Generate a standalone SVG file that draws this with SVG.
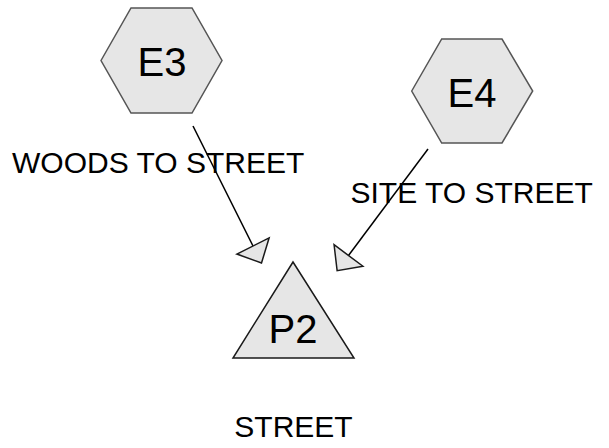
<svg xmlns="http://www.w3.org/2000/svg" width="609" height="448" viewBox="0 0 609 448">
<style>
.hex{fill:#e6e6e6;stroke:#555555;stroke-width:1.5}
.tri{fill:#e6e6e6;stroke:#1a1a1a;stroke-width:1.5}
.nl{font-family:"Liberation Sans",Arial,sans-serif;font-size:40px;fill:#000;text-anchor:middle}
.lbl{font-family:"Liberation Sans",Arial,sans-serif;font-size:30px;fill:#000}
.edge{stroke:#000;stroke-width:1.5;fill:none}
</style>
<defs>
<marker id="ah" markerUnits="userSpaceOnUse" markerWidth="40" markerHeight="40" refX="0" refY="0" viewBox="-2 -20 24 40" orient="auto" overflow="visible">
<path d="M0,-18 L19,0 L0,18 Z" fill="#e6e6e6" stroke="#1a1a1a" stroke-width="1.5" stroke-linejoin="miter"/>
</marker>
</defs>
<rect width="609" height="448" fill="#ffffff"/>
<g id="E3">
<polygon class="hex" points="101,60.5 131,8 192,8 222,60.5 192,113 131,113"/>
<text class="nl" x="162" y="76">E3</text>
</g>
<g id="E4">
<polygon class="hex" points="411.7,91 441.7,39 502,39 532.7,91 502,143 441.7,143"/>
<text class="nl" x="472" y="107">E4</text>
</g>
<g id="P2">
<polygon class="tri" points="293,262 233,358 354,358"/>
<text class="nl" x="293" y="343">P2</text>
<text class="lbl" x="293.5" y="437" text-anchor="middle">STREET</text>
</g>
<g id="connectors">
<line class="edge" x1="193" y1="126" x2="253" y2="246" marker-end="url(#ah)"/>
<line class="edge" x1="428" y1="149" x2="348.5" y2="255.5" marker-end="url(#ah)"/>
<text class="lbl" x="12" y="172.5">WOODS TO STREET</text>
<text class="lbl" x="350.5" y="203">SITE TO STREET</text>
</g>
</svg>
